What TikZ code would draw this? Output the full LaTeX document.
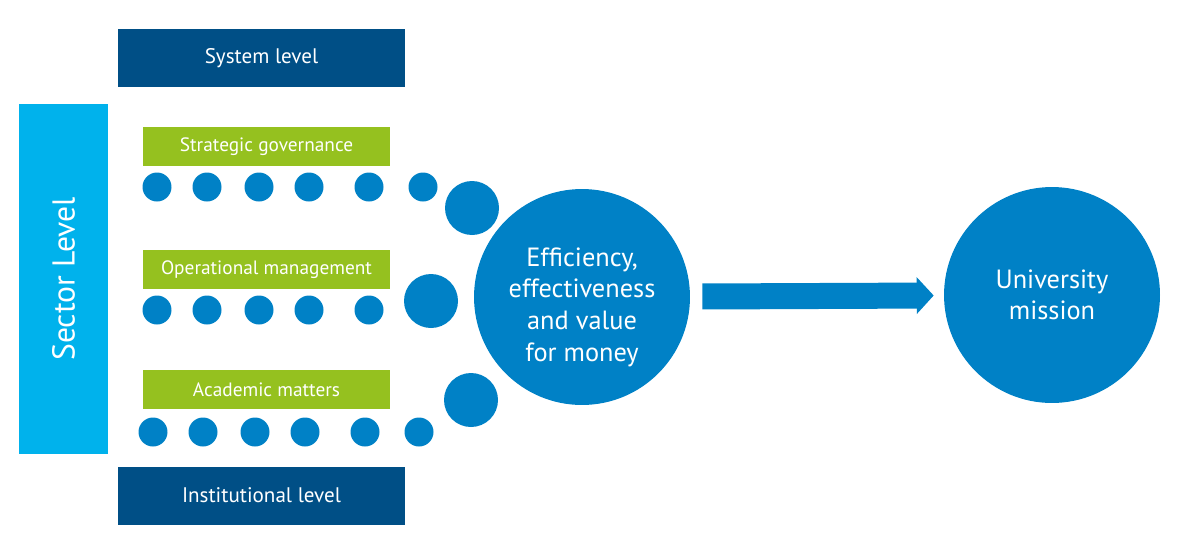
\documentclass[tikz,border=0pt]{standalone}
\usepackage{fontspec}
\setmainfont{PT Sans}
\usepackage{xcolor}
\usetikzlibrary{
  arrows.meta,
  positioning}
\definecolor{levelblue}{HTML}{004F86}
\definecolor{sectorblue}{HTML}{00B2EC}
\definecolor{areagreen}{HTML}{95C11F}
\definecolor{dotblue}{HTML}{0081C6}
\tikzset{level/.style={fill=levelblue, text=white, minimum width=5.74cm, minimum height=1.16cm, font=\fontsize{12}{14}\selectfont},
         area/.style={fill=areagreen, text=white, minimum width=4.94cm, minimum height=0.78cm, font=\fontsize{11}{13}\selectfont},
         dot/.style={circle, fill=dotblue, minimum size=0.58cm, inner sep=0pt},
         bigdot/.style={circle, fill=dotblue, minimum size=1.08cm, inner sep=0pt},
         goal/.style={circle, fill=dotblue, text=white, minimum size=4.32cm, inner sep=0pt, align=center, font=\fontsize{15}{18}\selectfont}
        }

\begin{document}
\begin{tikzpicture}[x=0.02cm, y=-0.02cm]
\useasboundingbox (0,0) rectangle (1185,555);

%levels
\node[level] (system) at (261.5,58) {System level};
\node[level] (inst) at (261.5,495.5) {Institutional level};
\node[fill=sectorblue, text=white, rotate=90, minimum width=7cm, minimum height=1.78cm, font=\fontsize{18}{20}\selectfont] (sector) at (63.5,279) {Sector Level};

%areas
\node[area] (strat) at (266.5,146.5) {Strategic governance};
\node[area] (oper) at (266.5,269.5) {Operational management};
\node[area] (acad) at (266.5,389.5) {Academic matters};

%dots
\foreach \x in {157,207,259,309,369,423}
  \node[dot] (s\x) at (\x,187) {};
\foreach \x in {157,207,259,309,369}
  \node[dot] (o\x) at (\x,310) {};
\foreach \x in {153,203,255,305,365,419}
  \node[dot] (a\x) at (\x,432) {};

\node[bigdot] (sbig) at (472,208) {};
\node[bigdot] (obig) at (431,301) {};
\node[bigdot] (abig) at (471,400) {};

%outcome
\node[goal, label={[text=white, align=center, font=\fontsize{15}{18}\selectfont, yshift=-0.2cm]center:Efficiency,\\effectiveness\\and value\\for money}] (eff) at (582,297) {};
\node[goal] (univ) at (1052,295) {University\\mission};

\draw[-{Triangle[length=0.34cm, width=0.72cm]}, dotblue, line width=0.52cm, shorten <=0.24cm, shorten >=0.2cm] (eff) -- (univ);

\end{tikzpicture}
\end{document}
